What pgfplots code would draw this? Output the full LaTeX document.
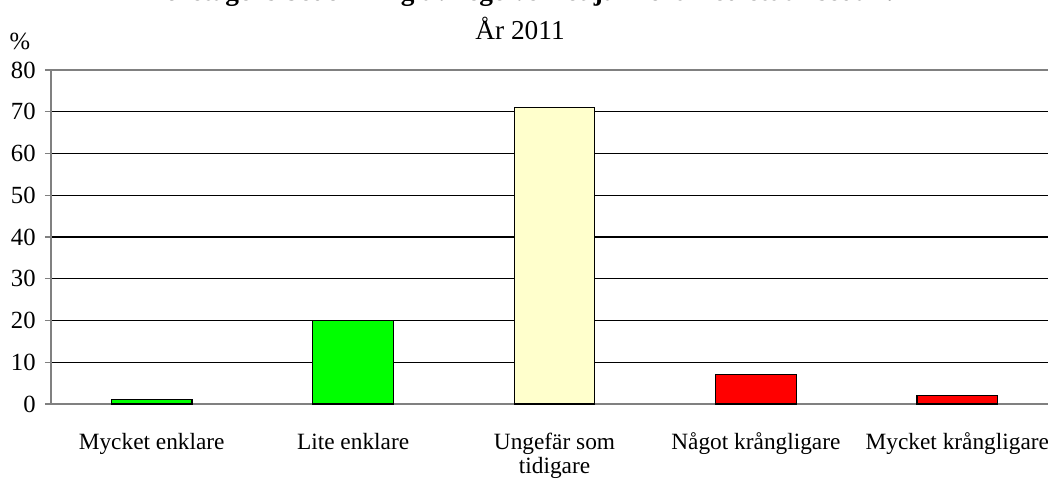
\documentclass[border=0pt]{standalone}
\usepackage{fontspec}
\setmainfont{Liberation Serif}
\usepackage{pgfplots}
\pgfplotsset{compat=1.18}
\definecolor{bargreen}{HTML}{00FF00}
\definecolor{baryellow}{HTML}{FFFFCC}
\definecolor{barred}{HTML}{FF0000}
\definecolor{axisgrey}{HTML}{808080}
\setlength{\tabcolsep}{0pt}

\begin{document}
\begin{tikzpicture}[x=0.75pt,y=0.75pt]
\begin{axis}[
  anchor=south west,
  scale only axis, width=755.25pt, height=250.5pt,
  xmin=-0.5, xmax=4.5, ymin=0, ymax=80,
  ybar, bar width=0.4, bar shift=0pt,
  xtick pos=bottom, ytick pos=left,
  axis line style={axisgrey, line width=1.4pt},
  ytick={0,10,...,80},
  ymajorgrids, grid style={black, line width=0.9pt},
  y tick style={axisgrey, line width=1pt},
  tick align=outside, major tick length=4.5pt,
  yticklabel style={font=\fontsize{18.5}{20}\selectfont, xshift=-3.5pt},
  /pgf/number format/assume math mode=true,
  xtick={0,1,2,3,4},
  xticklabels={Mycket enklare, Lite enklare, {\begin{tabular}[t]{c}Ungefär som\\[-3pt]tidigare\end{tabular}}, Något krångligare, Mycket krångligare},
  x tick style={draw=none},
  xticklabel style={font=\fontsize{17.5}{21}\selectfont, anchor=base, yshift=-29.5pt},
  extra x ticks={-0.5,0.5,1.5,2.5,3.5},
  extra x tick labels={},
  extra x tick style={grid=none, major tick length=6pt, tick style={draw=axisgrey, line width=1pt}},
  clip=false,
]
\addplot[fill=bargreen, draw=black, line width=1pt] coordinates {(0,1)};
\addplot[fill=bargreen, draw=black, line width=1pt] coordinates {(1,20)};
\addplot[fill=baryellow, draw=black, line width=1pt] coordinates {(2,71)};
\addplot[fill=barred, draw=black, line width=1pt] coordinates {(3,7)};
\addplot[fill=barred, draw=black, line width=1pt] coordinates {(4,2)};
\end{axis}
\node[anchor=base, font=\bfseries\fontsize{20.5}{23}\selectfont] at (472,403) {Företagens bedömning av regelverket jämfört med ett år sedan?};
\node[anchor=base, font=\fontsize{20.5}{23}\selectfont] at (469,364) {År 2011};
\node[anchor=base, font=\fontsize{18.5}{20}\selectfont] at (-31,354) {\%};
\pgfresetboundingbox
\useasboundingbox (-51,-74) rectangle (997,404);
\end{tikzpicture}
\end{document}
